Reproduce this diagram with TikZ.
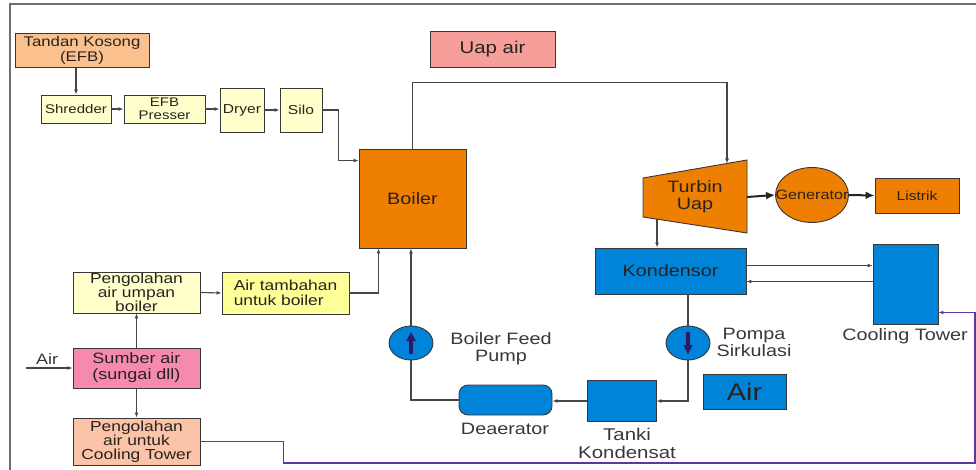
\documentclass[tikz,border=0pt]{standalone}
\usepackage{fontspec}
\setmainfont[FakeStretch=1.2]{Liberation Sans}
\usetikzlibrary{arrows.meta, shapes, shapes.geometric, calc}

\definecolor{efbfill}{RGB}{250,192,142}
\definecolor{prepfill}{RGB}{255,255,204}
\definecolor{addfill}{RGB}{255,255,153}
\definecolor{steamfill}{RGB}{245,158,154}
\definecolor{orangefill}{RGB}{238,127,0}
\definecolor{bluefill}{RGB}{0,132,218}
\definecolor{pinkfill}{RGB}{245,138,174}
\definecolor{ctprepfill}{RGB}{251,196,168}
\definecolor{pipe}{RGB}{70,70,70}
\definecolor{edge}{RGB}{55,55,55}
\definecolor{ink}{RGB}{40,35,30}
\definecolor{label}{RGB}{55,55,60}
\definecolor{ctpipe}{RGB}{90,55,165}
\definecolor{flowarrow}{RGB}{45,25,100}
\definecolor{frame}{RGB}{110,110,110}

\newcommand{\setfs}[1]{\fontsize{#1}{#1}\selectfont}

\begin{document}
\begin{tikzpicture}[x=1pt, y=-1pt, font=\setfs{16.5}]
	\tikzset	{
		blk/.style={draw=edge, line width=0.9pt, inner sep=0pt, align=center, text=ink},
		pipeline/.style={draw=pipe, line width=1.1pt},
		feed/.style={pipeline, -{Latex[length=5pt,width=4pt]}},
		power/.style={draw=black!85, line width=2pt, -{Latex[length=9pt,width=8pt]}},
		ctfeed/.style={draw=ctpipe, line width=1.1pt, -{Latex[length=5pt,width=4pt]}},
		tag/.style={text=label, align=center},
	}
	\tikzset	{
		pumpflow/.pic={
			code={
				\fill[flowarrow]	(-2.3,11) rectangle (2.3,-3);
				\fill[flowarrow]	(-4.8,-2) -- (0,-11) -- (4.8,-2) -- cycle;
			}
		},
	}
	\useasboundingbox (0,0) rectangle (976,470);
	\draw[frame, line width=1.3pt]	(10,470) -- (10,4) -- (976,4);

	\node[blk, fill=efbfill, minimum width=134pt, minimum height=34pt, font=\fontsize{14}{15}\selectfont] (efb) at (82,50) {Tandan Kosong\\(EFB)};
	\node[blk, fill=prepfill, minimum width=70pt, minimum height=28pt, font=\setfs{12.5}] (shred) at (76,109) {Shredder};
	\node[blk, fill=prepfill, minimum width=81pt, minimum height=28pt, font=\fontsize{12.5}{13}\selectfont] (press) at (164.5,109) {EFB\\Presser};
	\node[blk, fill=prepfill, minimum width=44pt, minimum height=44pt, font=\setfs{13}] (dryer) at (242,110) {Dryer};
	\node[blk, fill=prepfill, minimum width=42pt, minimum height=44pt, font=\setfs{13}] (silo) at (301,110) {Silo};

	\node[blk, fill=steamfill, minimum width=125pt, minimum height=36pt, font=\setfs{17}] (uap) at (492.5,49) {Uap air};
	\node[blk, fill=orangefill, minimum width=107pt, minimum height=99pt] (boiler) at (412.5,198.5) {Boiler};

	\coordinate (tA) at (643,178);
	\coordinate (tB) at (747,160);
	\coordinate (tC) at (747,233);
	\coordinate (tD) at (643,217);
	\filldraw[fill=orangefill, draw=edge, line width=0.9pt]	(tA) -- (tB) -- (tC) -- (tD) -- cycle;
	\node[text=ink, align=center, font=\fontsize{16.5}{17}\selectfont] (turbin) at (695,197) {Turbin\\Uap};
	\coordinate (turbtop) at (727,163.5);
	\coordinate (turbout) at (747,197);
	\coordinate (turbbot) at (657,219.2);

	\node[blk, ellipse, fill=orangefill, minimum width=73pt, minimum height=55pt] (gen) at (812,195) {};
	\node[text=ink, font=\setfs{13.5}] (genlabel) at (gen) {Generator};
	\node[blk, fill=orangefill, minimum width=84pt, minimum height=35pt, font=\setfs{13}] (listrik) at (917,195.5) {Listrik};

	\node[blk, fill=bluefill, minimum width=151pt, minimum height=46pt] (kond) at (670.5,271) {Kondensor};
	\node[blk, fill=bluefill, minimum width=65pt, minimum height=80pt] (ct) at (905.5,284) {};
	\node[tag] (ctlabel) at (905,336) {Cooling Tower};

	\node[blk, ellipse, fill=bluefill, minimum width=44pt, minimum height=34pt] (bfp) at (411,343) {};
	\node[blk, ellipse, fill=bluefill, minimum width=44pt, minimum height=34pt] (psirk) at (688,343) {};
	\node[tag, font=\fontsize{16.5}{17}\selectfont] (bfplabel) at (501,349) {Boiler Feed\\Pump};
	\node[tag, font=\fontsize{16.5}{17}\selectfont] (psirklabel) at (754,342) {Pompa\\Sirkulasi};

	\node[blk, fill=bluefill, rounded corners=9pt, minimum width=93pt, minimum height=30pt] (dea) at (505.5,400) {};
	\node[tag] (dealabel) at (505,429) {Deaerator};
	\node[blk, fill=bluefill, minimum width=69pt, minimum height=41pt] (tanki) at (621.5,401) {};
	\node[tag, font=\fontsize{17}{18}\selectfont] (tankilabel) at (627,443) {Tanki\\Kondensat};
	\node[blk, fill=bluefill, minimum width=83pt, minimum height=35pt, font=\setfs{24}] (airbox) at (744.5,391.5) {Air};

	\node[blk, fill=prepfill, minimum width=127pt, minimum height=41pt, font=\fontsize{14.5}{13.8}\selectfont] (umpan) at (136.5,292.5) {Pengolahan\\air umpan\\boiler};
	\node[blk, fill=addfill, minimum width=127pt, minimum height=42pt, align=left, font=\fontsize{14.5}{14.5}\selectfont] (tambah) at (285.5,293) {Air tambahan\\untuk boiler};
	\node[blk, fill=pinkfill, minimum width=127pt, minimum height=40pt, font=\fontsize{15}{16}\selectfont] (sumber) at (136.5,368) {Sumber air\\(sungai dll)};
	\node[blk, fill=ctprepfill, minimum width=127pt, minimum height=47pt, font=\fontsize{14.5}{13.8}\selectfont] (olahct) at (136.5,441.5) {Pengolahan\\air untuk\\Cooling Tower};
	\node[tag, font=\setfs{15}] (airlabel) at (47,359) {Air};
	\coordinate (airin) at (26,368);
	\coordinate (botright) at (975,463);

	\draw[feed]	(shred.north |- efb.south) -- (shred.north);
	\draw[feed]	(shred.east) -- (press.west);
	\draw[feed]	(press.east) -- (press.east -| dryer.west);
	\draw[feed]	(dryer.east) -- (silo.west);
	\draw[feed]	(silo.east) -- ++(16,0) |- ($(boiler.north west)+(0,12)$);
	\draw[feed]	(boiler.north) -- ++(0,-66) -| (turbtop);
	\draw[power]	(turbout) -- (gen.west);
	\draw[power]	(gen.east) -- (listrik.west);
	\draw[feed]	(turbbot) -- (turbbot |- kond.north);
	\draw[feed]	($(kond.north east)+(0,18)$) -- ($(ct.north west)+(0,22)$);
	\draw[feed]	($(ct.north west)+(0,38)$) -- ($(kond.north east)+(0,34)$);
	\draw[pipeline]	(psirk.north |- kond.south) -- (psirk.north);
	\draw[feed]	(psirk.south) |- (tanki.east);
	\draw[feed]	(tanki.west) -- (tanki.west -| dea.east);
	\draw[pipeline]	(dea.west) -| (bfp.south);
	\draw[feed]	(bfp.north) -- (bfp.north |- boiler.south);
	\draw[feed]	(tambah.east) -| ($(boiler.south west)+(20,0)$);
	\draw[feed]	(umpan.east) -- (tambah.west);
	\draw[feed]	(sumber.north) -- (umpan.south);
	\draw[feed]	(sumber.south) -- (olahct.north);
	\draw[feed]	(airin) -- (sumber.west);
	\draw[ctfeed]	(olahct.east) -- ++(83,0) |- (botright) |- ($(ct.south east)+(0,-12)$);

	\pic[] at (bfp) {pumpflow};
	\pic[rotate=180] at (psirk) {pumpflow};
\end{tikzpicture}
\end{document}
